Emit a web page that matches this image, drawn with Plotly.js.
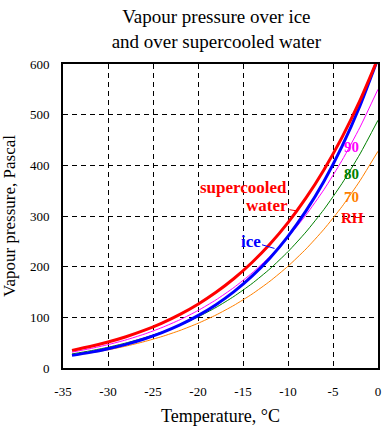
<!DOCTYPE html>
<html>
<head>
<meta charset="utf-8">
<script src="https://cdn.plot.ly/plotly-3.0.1.min.js"></script>
<style>html,body{margin:0;padding:0;background:#fff;}#chart{width:392px;height:430px;}</style>
</head>
<body>
<div id="chart"></div>
<script>
// Temperature (°C)
var temperature = [-34, -32, -30, -28, -26, -24, -22, -20, -18, -16, -14, -12, -10, -8, -6, -4, -2, 0];
// Vapour pressure over supercooled water (Pa)
var waterPressure = [34.8, 42.3, 51.2, 61.7, 74.1, 88.7, 105.9, 126.0, 149.4, 176.7, 208.3, 244.8, 287.0, 335.6, 391.4, 455.2, 528.1, 611.2];
// Vapour pressure over ice (Pa)
var icePressure = [24.9, 30.8, 38.0, 46.7, 57.3, 69.9, 85.1, 103.3, 124.9, 150.7, 181.2, 217.3, 259.9, 310.0, 368.7, 437.4, 517.7, 611.2];
// Relative humidity curves (Pa)
var rh90 = [31.3, 38.1, 46.1, 55.5, 66.7, 79.8, 95.3, 113.4, 134.5, 159.0, 187.4, 220.3, 258.3, 302.0, 352.3, 409.7, 475.3, 550.1];
var rh80 = [27.8, 33.8, 40.9, 49.4, 59.3, 71.0, 84.7, 100.8, 119.5, 141.4, 166.6, 195.8, 229.6, 268.5, 313.1, 364.2, 422.5, 489.0];
var rh70 = [24.4, 29.6, 35.8, 43.2, 51.9, 62.1, 74.1, 88.2, 104.6, 123.7, 145.8, 171.4, 200.9, 234.9, 274.0, 318.6, 369.7, 427.8];
var xTicks = [-35, -30, -25, -20, -15, -10, -5, 0];
var yTicks = [0, 100, 200, 300, 400, 500, 600];

var serif = 'Liberation Serif, Times New Roman, serif';

function line(y, color, width, name) {
  return {x: temperature, y: y, type: 'scatter', mode: 'lines', name: name,
          line: {color: color, width: width, shape: 'spline', smoothing: 0.6},
          hoverinfo: 'skip'};
}

var data = [
  line(rh70, '#FF8000', 1, '70% RH'),
  line(rh80, '#008000', 1, '80% RH'),
  line(rh90, '#FF00FF', 1, '90% RH'),
  line(icePressure, '#0000FF', 3, 'ice'),
  line(waterPressure, '#FF0000', 3, 'supercooled water')
];

var axisCommon = {
  showline: true, linecolor: '#000', linewidth: 2, mirror: true,
  showgrid: true, gridcolor: '#000', gridwidth: 1, griddash: '5px,4px',
  zeroline: false, ticks: '', tickfont: {family: serif, size: 13, color: '#000'}
};

var layout = {
  width: 392, height: 430,
  margin: {l: 63, r: 14, t: 64, b: 62},
  paper_bgcolor: '#fff', plot_bgcolor: '#fff',
  showlegend: false,
  font: {family: serif, color: '#000'},
  title: {
    text: 'Vapour pressure over ice<br>and over supercooled water',
    font: {family: serif, size: 19, color: '#000'},
    xref: 'container', x: 0.552, xanchor: 'center',
    yref: 'container', y: 0.946, yanchor: 'top'
  },
  xaxis: Object.assign({}, axisCommon, {
    range: [-35, 0], tickmode: 'array', tickvals: xTicks, ticktext: xTicks.map(String),
    ticklabelstandoff: 10,
    title: {text: 'Temperature, °C', font: {family: serif, size: 18, color: '#000'}, standoff: 12}
  }),
  yaxis: Object.assign({}, axisCommon, {
    range: [0, 600], tickmode: 'array', tickvals: yTicks, ticktext: yTicks.map(String),
    ticklabelstandoff: 9,
    title: {text: 'Vapour pressure, Pascal', font: {family: serif, size: 17, color: '#000'}, standoff: 12}
  }),
  annotations: [
    {xref: 'x', yref: 'y', x: -14.89, y: 357, text: '<b>supercooled</b>', showarrow: false,
     font: {family: serif, size: 17, color: '#FF0000'}},
    {xref: 'x', yref: 'y', x: -9.0, y: 310, text: '<b>water</b>', showarrow: true,
     ax: -30, ay: -5, arrowhead: 0, arrowwidth: 1, arrowcolor: '#FF0000',
     font: {family: serif, size: 17, color: '#FF0000'}},
    {xref: 'x', yref: 'y', x: -11.5, y: 236, text: '<b>ice</b>', showarrow: true,
     ax: -24, ay: -7, arrowhead: 0, arrowwidth: 1, arrowcolor: '#0000FF',
     font: {family: serif, size: 17, color: '#0000FF'}},
    {xref: 'x', yref: 'y', x: -2.89, y: 436, text: '<b>90</b>', showarrow: false,
     font: {family: serif, size: 15, color: '#FF00FF'}},
    {xref: 'x', yref: 'y', x: -2.89, y: 383, text: '<b>80</b>', showarrow: false,
     font: {family: serif, size: 15, color: '#008000'}},
    {xref: 'x', yref: 'y', x: -2.89, y: 337, text: '<b>70</b>', showarrow: false,
     font: {family: serif, size: 15, color: '#FF8000'}},
    {xref: 'x', yref: 'y', x: -2.78, y: 296, text: '<b>RH</b>', showarrow: false,
     font: {family: serif, size: 15, color: '#FF0000'}}
  ]
};

Plotly.newPlot('chart', data, layout, {staticPlot: true, displayModeBar: false});
</script>
</body>
</html>
